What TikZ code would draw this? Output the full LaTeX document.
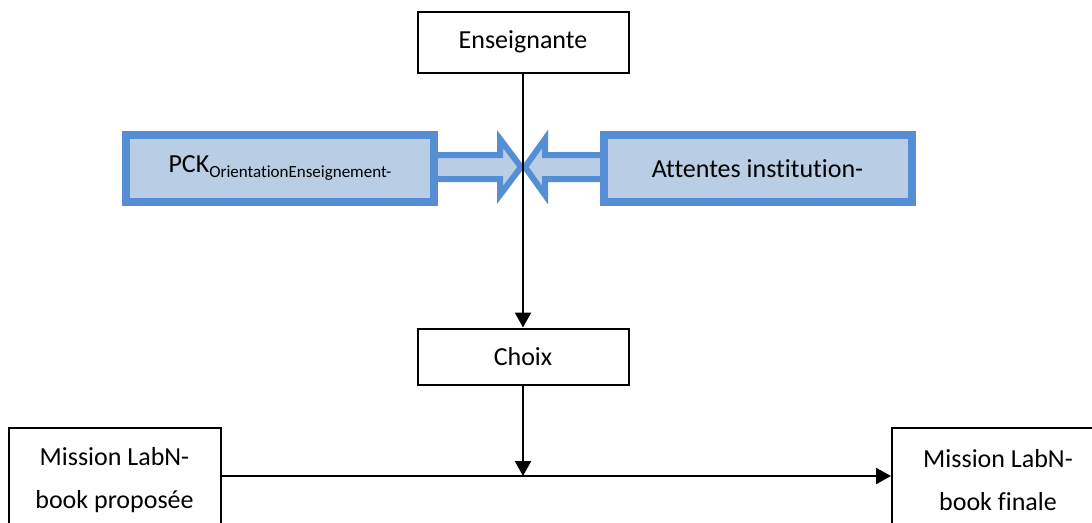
\documentclass[tikz,border=0pt]{standalone}
\usepackage{fontspec}
\setmainfont{Carlito}[Ligatures=NoCommon]
\usetikzlibrary{arrows.meta}
\definecolor{bborder}{HTML}{558ED5}
\definecolor{bfill}{HTML}{B9CDE5}
\begin{document}
\begin{tikzpicture}[x=1pt,y=-1pt,
  bbox/.style={draw=black,line width=2pt,fill=white,inner sep=0pt,align=center,font=\fontsize{26}{43}\selectfont},
  twoline/.style={bbox,minimum width=212pt,minimum height=97pt},
  txt/.style={align=center,font=\fontsize{26}{43}\selectfont,inner sep=0pt},
  bluebox/.style={draw=bborder,fill=bfill,line width=8pt,inner sep=0pt,minimum width=308pt,minimum height=67pt,font=\fontsize{26}{30}\selectfont},
  blockarrow/.style={draw=bborder,fill=bfill,line width=6pt,line join=miter},
  conn/.style={draw=black,line width=2.2pt,-{Triangle[width=16pt,length=15pt]}}]
\useasboundingbox (0,0) rectangle (1092,522);
\clip (0,0) rectangle (1092,522);
\fill[white] (0,0) rectangle (1092,522);
% blue block arrows
\path[blockarrow] (430,155) -- (500,155) -- (500,139) -- (521,167) -- (500,195) -- (500,179) -- (430,179) -- cycle;
\path[blockarrow] (607,155) -- (545,155) -- (545,139) -- (525,167) -- (545,195) -- (545,179) -- (607,179) -- cycle;
% blue boxes
\node[bluebox] (pck) at (280,168.5) {PCK\raisebox{-5pt}{\fontsize{17}{17}\selectfont OrientationEnseignement-}};
\node[bluebox] (att) at (757.5,168.5) {Attentes institution-};
% black boxes
\node[bbox,minimum width=211pt,minimum height=61pt] (ens) at (523,42) {Enseignante};
\node[bbox,minimum width=211pt,minimum height=56pt] (choix) at (523,356.5) {Choix};
\node[twoline,label={[txt,yshift=-4pt]center:Mission LabN-\\book proposée}] (prop) at (114.5,476) {};
\node[twoline,label={[txt,yshift=-4pt]center:Mission LabN-\\book finale}] (fin) at (998,476) {};
\coordinate (j) at (523,476);
% connectors
\draw[conn] (ens.south) -- (choix.north);
\draw[conn] (prop.east) -- (fin.west);
\draw[conn] (choix.south) -- (j);
\end{tikzpicture}
\end{document}
